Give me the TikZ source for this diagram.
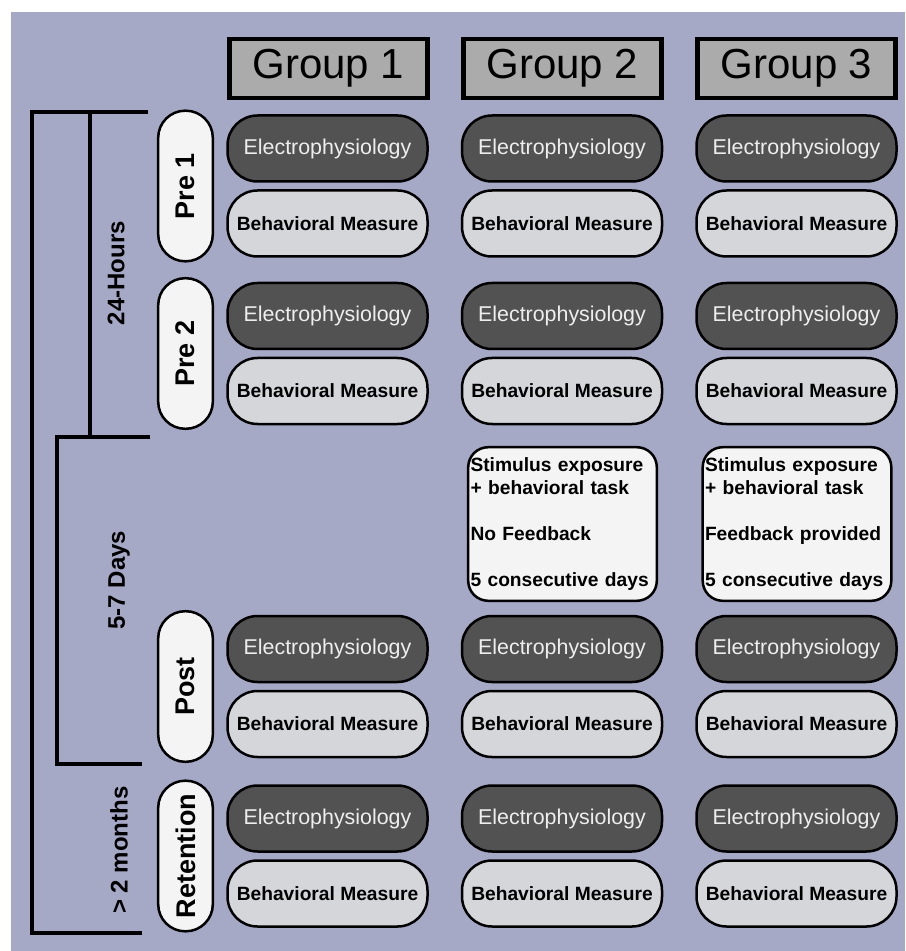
\documentclass[tikz,border=0pt]{standalone}
\usepackage{fontspec}
\setmainfont{Liberation Sans}
\usetikzlibrary{positioning}
\definecolor{panelbg}{HTML}{A6A9C6}
\definecolor{headgrey}{HTML}{ABABAB}
\definecolor{darkbox}{HTML}{525252}
\definecolor{lightbox}{HTML}{D4D6DA}
\definecolor{paleink}{HTML}{EEEEEE}
\definecolor{offwhite}{HTML}{F4F4F4}
\tikzset{
  grouphead/.style = {draw=black, line width=2.2pt, fill=headgrey, inner sep=0pt,
                      minimum width=99pt, minimum height=29.5pt, font=\fontsize{21}{25}\selectfont},
  elecbox/.style   = {draw=black, line width=1.25pt, fill=darkbox, text=paleink, rounded corners=15pt,
                      minimum width=100pt, minimum height=33pt, inner sep=0pt, font=\fontsize{10.7}{13}\selectfont},
  behavbox/.style  = {draw=black, line width=1.25pt, fill=lightbox, text=black, rounded corners=15pt,
                      minimum width=100pt, minimum height=33pt, inner sep=0pt, font=\fontsize{9.6}{11.5}\selectfont\bfseries},
  phasepill/.style = {draw=black, line width=1.25pt, fill=offwhite, rotate=90, rounded corners=13.5pt,
                      minimum width=75.3pt, minimum height=27.3pt, inner sep=0pt, font=\fontsize{13.5}{16}\selectfont\bfseries},
  trainbox/.style  = {draw=black, line width=1.25pt, fill=offwhite, rounded corners=10pt, align=left,
                      text width=92pt, inner sep=1.15pt, minimum height=76.8pt, font=\fontsize{9.6}{11.5}\selectfont\bfseries},
  spanlabel/.style = {rotate=90, font=\fontsize{12}{14}\selectfont\bfseries},
  bracket/.style   = {line width=1.8pt},
}

\begin{document}
\begin{tikzpicture}[x=0.5pt, y=-0.5pt, node distance=16pt]
    \useasboundingbox (0,0) rectangle (905,951);
    \fill[panelbg] (11,12) rectangle (905,951);
    % group headers
    \node[grouphead] (g1) at (328.5,68.5) {Group 1};
    \node[grouphead,right=15.8pt of g1] (g2) {Group 2};
    \node[grouphead,right=15.8pt of g2] (g3) {Group 3};
    % phases
    \node[phasepill] (pre1) at (185.5,186) {Pre 1};
    \node[phasepill] (pre2) at (185.5,353.5) {Pre 2};
    \node[phasepill] (post) at (185.5,686.5) {Post};
    \node[phasepill] (ret) at (185.5,856) {Retention};
    % pre 1
    \node[elecbox] (el11) at (327.5,148.5) {Electrophysiology};
    \node[elecbox,right=of el11] (el12) {Electrophysiology};
    \node[elecbox,right=of el12] (el13) {Electrophysiology};
    \node[behavbox,below=3.25pt of el11] (bm11) {Behavioral Measure};
    \node[behavbox,below=3.25pt of el12] (bm12) {Behavioral Measure};
    \node[behavbox,below=3.25pt of el13] (bm13) {Behavioral Measure};
    % pre 2
    \node[elecbox] (el21) at (327.5,316) {Electrophysiology};
    \node[elecbox,right=of el21] (el22) {Electrophysiology};
    \node[elecbox,right=of el22] (el23) {Electrophysiology};
    \node[behavbox,below=3.25pt of el21] (bm21) {Behavioral Measure};
    \node[behavbox,below=3.25pt of el22] (bm22) {Behavioral Measure};
    \node[behavbox,below=3.25pt of el23] (bm23) {Behavioral Measure};
    % training
    \node[trainbox] (tr2) at (562.5,524) {Stimulus exposure\\+ behavioral task\\[11.5pt]No Feedback\\[11.5pt]5 consecutive days};
    \node[trainbox] (tr3) at (797,524) {Stimulus exposure\\+ behavioral task\\[11.5pt]Feedback provided\\[11.5pt]5 consecutive days};
    % post
    \node[elecbox] (el31) at (327.5,649) {Electrophysiology};
    \node[elecbox,right=of el31] (el32) {Electrophysiology};
    \node[elecbox,right=of el32] (el33) {Electrophysiology};
    \node[behavbox,below=3.25pt of el31] (bm31) {Behavioral Measure};
    \node[behavbox,below=3.25pt of el32] (bm32) {Behavioral Measure};
    \node[behavbox,below=3.25pt of el33] (bm33) {Behavioral Measure};
    % retention
    \node[elecbox] (el41) at (327.5,818.5) {Electrophysiology};
    \node[elecbox,right=of el41] (el42) {Electrophysiology};
    \node[elecbox,right=of el42] (el43) {Electrophysiology};
    \node[behavbox,below=3.25pt of el41] (bm41) {Behavioral Measure};
    \node[behavbox,below=3.25pt of el42] (bm42) {Behavioral Measure};
    \node[behavbox,below=3.25pt of el43] (bm43) {Behavioral Measure};
    % time spans
    \draw[bracket] (148,112) -- (32,112) -- (32,933) -- (142,933);
    \draw[bracket] (90,112) -- (90,437);
    \draw[bracket] (150,437) -- (57,437) -- (57,764) -- (142,764);
    \node[spanlabel] (span24) at (116,273) {24-Hours};
    \node[spanlabel] (span57) at (119,580) {5-7 Days};
    \node[spanlabel] (span2m) at (119,850) {> 2 months};
\end{tikzpicture}
\end{document}
